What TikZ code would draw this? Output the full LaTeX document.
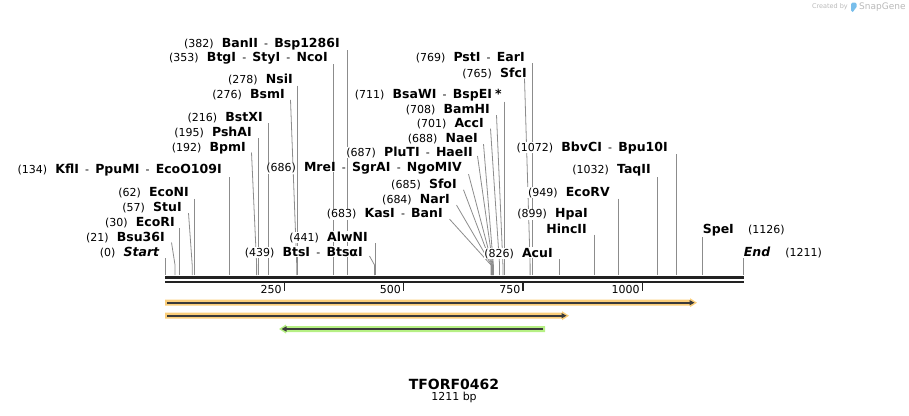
\documentclass[tikz,border=0pt]{standalone}
\usepackage{fontspec}
\setmainfont{DejaVu Sans}
\usepackage{xcolor}
\usepackage{tikz}
\usetikzlibrary{arrows.meta}

\definecolor{cutgrey}{RGB}{140,140,140}
\definecolor{bbcol}{RGB}{34,34,34}
\definecolor{orfband}{RGB}{251,206,122}
\definecolor{orfgreen}{RGB}{182,240,132}
\definecolor{orfline}{RGB}{58,58,58}
\definecolor{wmgrey}{RGB}{185,185,185}
\definecolor{logoblue}{RGB}{120,190,235}

\pgfdeclarelayer{cuts}
\pgfsetlayers{cuts,main}

\setlength{\fboxsep}{0.6pt}
\newcommand{\ename}[1]{\colorbox{white}{\fontsize{12.5}{14}\selectfont\bfseries #1}}
\newcommand{\epos}[1]{\colorbox{white}{(#1)}\hspace{7pt}}
\newcommand{\esep}{\hspace{5pt}\colorbox{white}{-}\hspace{5pt}}

\tikzset{
  site/.style={font=\fontsize{11}{13}\selectfont, inner sep=0pt, anchor=base east},
  siteR/.style={site, anchor=base west},
  cutline/.style={draw=cutgrey, line width=0.8pt},
}

\begin{document}
\begin{tikzpicture}[x=1pt, y=-1pt]
    \useasboundingbox (0,0) rectangle (909,415);

    % cut positions on the backbone (1211 bp)
    \foreach \p in {0,21,30,57,62,134,192,195,216,276,278,353,382,439,441,683,684,685,686,687,688,701,708,711,765,769,826,899,949,1032,1072,1126,1211}
      \coordinate (c\p) at ({165+\p*0.47729},275);

    % backbone
    \draw[bbcol, line width=2.7pt] (165,277.3) -- (743.5,277.3);
    \draw[bbcol, line width=2pt] (165,281.7) -- (743.5,281.7);

    % ruler
    \foreach \t in {250,500,750,1000} {
      \draw[bbcol, line width=1.4pt] ({165+\t*0.47729},283) -- ++(0,8);
      \node[site] (t\t) at ({162.5+\t*0.47729},293) {\t};
    }

    % left sites
    \node[site] (start) at (160,256) {\epos{0}\ename{\itshape Start}};
    \node[site] (bsu36i) at (165.5,241) {\epos{21}\ename{Bsu36I}};
    \node[site] (ecori) at (175.5,226) {\epos{30}\ename{EcoRI}};
    \node[site] (stui) at (182.5,211.6) {\epos{57}\ename{StuI}};
    \node[site] (econi) at (189.5,196.6) {\epos{62}\ename{EcoNI}};
    \node[site] (kfli) at (222.5,173.6) {\epos{134}\ename{KflI}\esep\ename{PpuMI}\esep\ename{EcoO109I}};
    \node[site] (bpmi) at (246.5,151) {\epos{192}\ename{BpmI}};
    \node[site] (pshai) at (252.5,136) {\epos{195}\ename{PshAI}};
    \node[site] (bstxi) at (263.5,121) {\epos{216}\ename{BstXI}};
    \node[site] (bsmi) at (285.5,98.3) {\epos{276}\ename{BsmI}};
    \node[site] (nsii) at (293.5,83.3) {\epos{278}\ename{NsiI}};
    \node[site] (btgi) at (328.5,61) {\epos{353}\ename{BtgI}\esep\ename{StyI}\esep\ename{NcoI}};
    \node[site] (banii) at (340.5,47) {\epos{382}\ename{BanII}\esep\ename{Bsp1286I}};
    \node[site] (btsi) at (363.5,256) {\epos{439}\ename{BtsI}\esep\ename{BtsαI}};
    \node[site] (alwni) at (368.5,241) {\epos{441}\ename{AlwNI}};

    % 683-711 cluster
    \node[site] (kasi) at (443.5,217.6) {\epos{683}\ename{KasI}\esep\ename{BanI}};
    \node[site] (nari) at (450.5,203.6) {\epos{684}\ename{NarI}};
    \node[site] (sfoi) at (457.5,188.3) {\epos{685}\ename{SfoI}};
    \node[site] (mrei) at (462.5,171.6) {\epos{686}\ename{MreI}\esep\ename{SgrAI}\esep\ename{NgoMIV}};
    \node[site] (pluti) at (473.5,156) {\epos{687}\ename{PluTI}\esep\ename{HaeII}};
    \node[site] (naei) at (478.5,142.6) {\epos{688}\ename{NaeI}};
    \node[site] (acci) at (484.5,127.6) {\epos{701}\ename{AccI}};
    \node[site] (bamhi) at (490.5,113.6) {\epos{708}\ename{BamHI}};
    \node[site] (bsawi) at (502.5,98.3) {\epos{711}\ename{BsaWI}\esep\ename{BspEI}\hspace{2pt}\ename{*}};
    \node[site] (sfci) at (527.5,77) {\epos{765}\ename{SfcI}};
    \node[site] (psti) at (525.5,61) {\epos{769}\ename{PstI}\esep\ename{EarI}};

    % right sites
    \node[site] (acui) at (553.5,257) {\epos{826}\ename{AcuI}};
    \node[site] (hpai) at (588.5,217.6) {\epos{899}\ename{HpaI}};
    \node[site] (hincii) at (587.5,233.6) {\ename{HincII}};
    \node[site] (ecorv) at (610.5,196.3) {\epos{949}\ename{EcoRV}};
    \node[site] (taqii) at (651.5,173.6) {\epos{1032}\ename{TaqII}};
    \node[site] (bbvci) at (668.5,151) {\epos{1072}\ename{BbvCI}\esep\ename{Bpu10I}};
    \node[siteR] (spei) at (702,233.6) {\ename{SpeI}\hspace{13pt}\colorbox{white}{(1126)}};
    \node[siteR] (endlbl) at (743,256) {\ename{\itshape End}\hspace{14pt}\colorbox{white}{(1211)}};

    % leader lines, kept behind the labels
    \begin{pgfonlayer}{cuts}
      \draw[cutline] (c0 |- start.south) -- (c0);
      \draw[cutline] ([shift={(6,1.5)}]bsu36i.base east) -- ([yshift=10pt]c21) -- (c21);
      \draw[cutline] (c30 |- ecori.south) -- (c30);
      \draw[cutline] ([shift={(6,1.5)}]stui.base east) -- ([yshift=10pt]c57) -- (c57);
      \draw[cutline] (c62 |- econi.south) -- (c62);
      \draw[cutline] (c134 |- kfli.south) -- (c134);
      \draw[cutline] ([shift={(5,1.5)}]bpmi.base east) -- ([yshift=10pt]c192) -- (c192);
      \draw[cutline] (c195 |- pshai.south) -- (c195);
      \draw[cutline] (c216 |- bstxi.south) -- (c216);
      \draw[cutline] ([shift={(5,1.5)}]bsmi.base east) -- ([yshift=10pt]c276) -- (c276);
      \draw[cutline] (c278 |- nsii.south) -- (c278);
      \draw[cutline] (c353 |- btgi.south) -- (c353);
      \draw[cutline] (c382 |- banii.south) -- (c382);
      \draw[cutline] ([shift={(6,0)}]btsi.base east) -- ([yshift=10pt]c439) -- (c439);
      \draw[cutline] (c441 |- alwni.south) -- (c441);

      \draw[cutline] ([shift={(6,1.5)}]kasi.base east) -- ([yshift=10pt]c683) -- (c683);
      \draw[cutline] ([shift={(6,1.5)}]nari.base east) -- ([yshift=10pt]c684) -- (c684);
      \draw[cutline] ([shift={(6,1.5)}]sfoi.base east) -- ([yshift=10pt]c685) -- (c685);
      \draw[cutline] ([shift={(6,2.5)}]mrei.base east) -- ([yshift=10pt]c686) -- (c686);
      \draw[cutline] ([shift={(4,0)}]pluti.base east) -- ([yshift=10pt]c687) -- (c687);
      \draw[cutline] ([shift={(5,1.5)}]naei.base east) -- ([yshift=10pt]c688) -- (c688);
      \draw[cutline] ([shift={(6,1)}]acci.base east) -- ([yshift=10pt]c701) -- (c701);
      \draw[cutline] ([shift={(6,1.5)}]bamhi.base east) -- ([yshift=10pt]c708) -- (c708);
      \draw[cutline] (c711 |- bsawi.south) -- (c711);
      \draw[cutline] ([shift={(-3,1.5)}]sfci.base east) -- ([yshift=10pt]c765) -- (c765);
      \draw[cutline] (c769 |- psti.south) -- (c769);

      \draw[cutline] (c826 |- acui.south) -- (c826);
      \draw[cutline] (c899 |- hincii.south) -- (c899);
      \draw[cutline] (c949 |- ecorv.south) -- (c949);
      \draw[cutline] (c1032 |- taqii.south) -- (c1032);
      \draw[cutline] (c1072 |- bbvci.south) -- (c1072);
      \draw[cutline] (c1126 |- spei.south) -- (c1126);
      \draw[cutline] (c1211 |- endlbl.south) -- (c1211);
    \end{pgfonlayer}

    % features
    \fill[orfband] (165,299.7) -- (690,299.7) -- (690,298.2) -- (697,302.7) -- (690,307.2) -- (690,305.7) -- (165,305.7) -- cycle;
    \draw[orfline, line width=1.8pt, -{Triangle[length=5pt,width=5pt]}] (167,302.7) -- (694.5,302.7);
    \fill[orfband] (165,312.7) -- (562,312.7) -- (562,311.2) -- (569,315.7) -- (562,320.2) -- (562,318.7) -- (165,318.7) -- cycle;
    \draw[orfline, line width=1.8pt, -{Triangle[length=5pt,width=5pt]}] (167,315.7) -- (566.5,315.7);
    \fill[orfgreen] (545,326) -- (286,326) -- (286,324.5) -- (279,329) -- (286,333.5) -- (286,332) -- (545,332) -- cycle;
    \draw[orfline, line width=1.8pt, -{Triangle[length=5pt,width=5pt]}] (543,329) -- (281.5,329);

    % title
    \node[font=\fontsize{14}{16}\selectfont\bfseries] (title) at (454,384) {TFORF0462};
    \node[font=\fontsize{11}{13}\selectfont] (size) at (454,397.5) {1211 bp};

    % watermark
    \node[anchor=east, inner sep=0pt, font=\fontsize{6.5}{7}\selectfont, text=wmgrey] (credit) at (848,7) {Created by};
    \fill[logoblue, rounded corners=1.5pt] (851,2.5) -- (856.5,2.5) -- (856.5,8.5) -- (854,8.5) -- (854,12) -- (851,12) -- cycle;
    \node[anchor=west, inner sep=0pt, font=\fontsize{9}{10}\selectfont, text=wmgrey] (snapgene) at (859,7) {SnapGene};
\end{tikzpicture}
\end{document}
